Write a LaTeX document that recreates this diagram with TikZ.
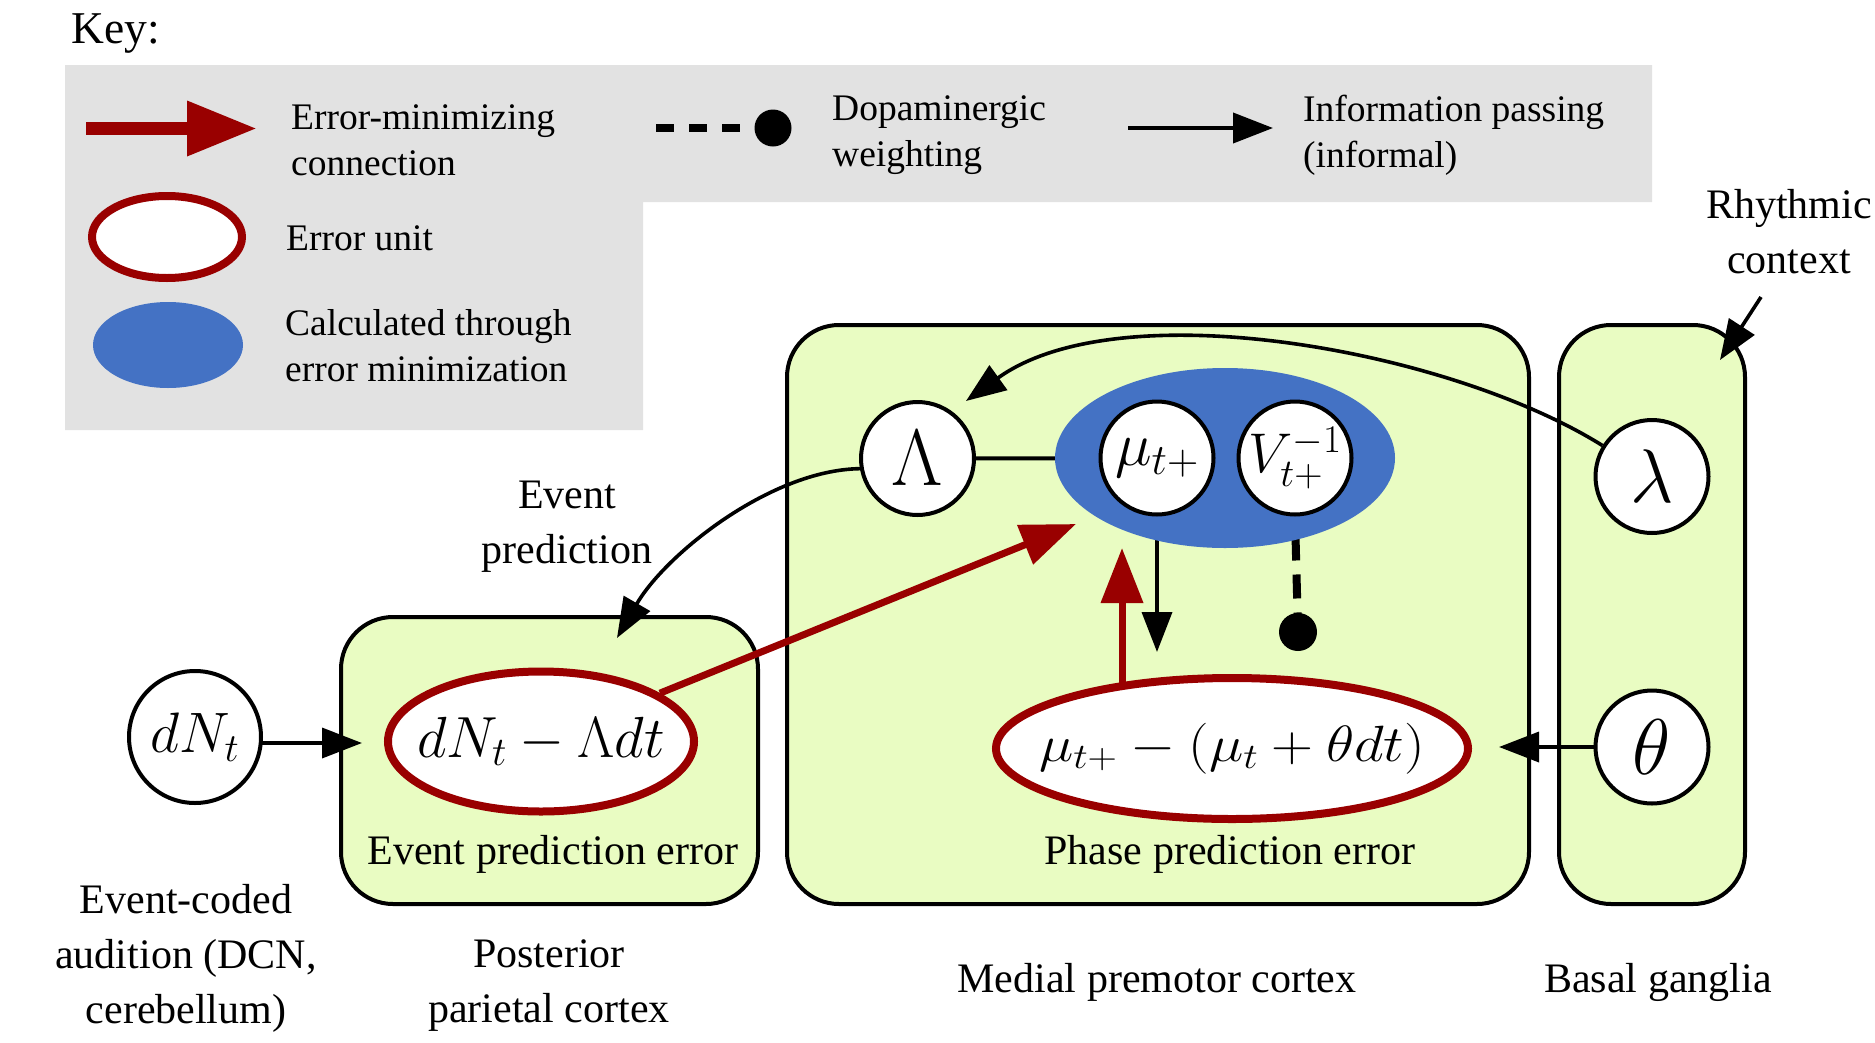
\RequirePackage{fix-cm}
\documentclass[tikz,border=0pt]{standalone}
\usepackage[no-math]{fontspec}
\setmainfont{Liberation Serif}
\usepackage{graphicx}
\usetikzlibrary{arrows.meta,shapes.geometric}
\definecolor{boxgreen}{RGB}{233,252,194}
\definecolor{keygray}{RGB}{226,226,226}
\definecolor{errred}{RGB}{153,0,0}
\definecolor{calcblue}{RGB}{68,114,196}
\pgfdeclarelayer{bg}
\pgfdeclarelayer{edges}
\pgfsetlayers{bg,edges,main}
\tikzset{
  lab/.style={font=\fontsize{42}{55}\selectfont, align=center, inner sep=0pt},
  keytxt/.style={font=\fontsize{37.5}{46}\selectfont, align=left, anchor=north west, inner sep=0pt},
  var/.style={circle, draw=black, line width=4pt, fill=white, minimum size=113pt, inner sep=0pt},
  errunit/.style={ellipse, draw=errred, line width=8pt, fill=white, inner sep=0pt},
  region/.style={rectangle, draw=black, line width=4pt, fill=boxgreen, rounded corners=52pt, inner sep=0pt},
  info/.style={line width=3.6pt, -{Triangle[length=40pt,width=30pt]}},
  errarrow/.style={draw=errred, line width=7pt, -{Triangle[length=55pt,width=41pt]}},
}
\begin{document}
\begin{tikzpicture}[x=1pt,y=-1pt]
\useasboundingbox (0,0) rectangle (1875,1042);

% ---------- Key ----------
\node[font=\fontsize{45.5}{54}\selectfont, anchor=base west, inner sep=0pt] (keytitle) at (71,43) {Key:};
\fill[keygray] (65,65) -- (1652,65) -- (1652,202) -- (643,202) -- (643,430) -- (65,430) -- cycle;

\coordinate (k1a) at (86,128.5);
\coordinate (k1b) at (257,128.5);
\draw[errred, line width=13pt, -{Triangle[length=70pt,width=52pt]}] (k1a) -- (k1b);
\node[keytxt] (k1t) at (291,96.8) {\strut Error-minimizing\\\strut connection};

\coordinate (k2a) at (656,128);
\node[circle, fill=black, minimum size=37pt, inner sep=0pt] (k2dot) at (773,128) {};
\draw[line width=8pt, dash pattern=on 18pt off 15pt] (k2a) -- (k2dot.center);
\node[keytxt] (k2t) at (832,87.8) {\strut Dopaminergic\\\strut weighting};

\coordinate (k3a) at (1128,128);
\coordinate (k3b) at (1273,128);
\draw[info, line width=4pt] (k3a) -- (k3b);
\node[keytxt] (k3t) at (1303,88.8) {\strut Information passing\\\strut (informal)};

\node[errunit, minimum width=150pt, minimum height=82pt] (k4) at (167,237) {};
\node[keytxt] (k4t) at (286,217.8) {\strut Error unit};

\node[ellipse, fill=calcblue, minimum width=150pt, minimum height=86pt, inner sep=0pt] (k5) at (168,345) {};
\node[keytxt] (k5t) at (285,302.8) {\strut Calculated through\\\strut error minimization};

% ---------- Regions ----------
\begin{pgfonlayer}{bg}
\node[region, minimum width=417pt, minimum height=287pt] (ppc) at (549.5,760.5) {};
\node[region, minimum width=742pt, minimum height=579pt] (mpc) at (1158,614.5) {};
\node[region, minimum width=186pt, minimum height=579pt] (bg) at (1652,614.5) {};
\end{pgfonlayer}

% ---------- Nodes ----------
\node[var, minimum size=132pt, font=\fontsize{57}{60}\selectfont] (dN) at (195,737) {\makebox[0pt]{$dN_t$}};
\node[errunit, minimum width=306pt, minimum height=140pt, font=\fontsize{58}{60}\selectfont] (epe) at (541,741.5) {\makebox[0pt]{$dN_t - \Lambda dt$}};

\node[ellipse, fill=calcblue, minimum width=340pt, minimum height=180pt, inner sep=0pt] (calc) at (1225,458) {};
\node[var, font=\fontsize{80}{80}\selectfont] (Lam) at (917.5,458.5) {\makebox[0pt]{$\Lambda$}};
\node[var, font=\fontsize{62}{60}\selectfont] (mu) at (1157,458) {\makebox[0pt]{$\mu_{t+}$}};
\node[var, font=\fontsize{56}{60}\selectfont] (V) at (1295,458) {\makebox[0pt]{$V_{t+}^{-1}$}};
\node[circle, fill=black, minimum size=38pt, inner sep=0pt] (dot) at (1298,632) {};
\node[errunit, minimum width=472pt, minimum height=141pt, font=\fontsize{51}{60}\selectfont] (ppe) at (1232,748.5) {\makebox[0pt]{\scalebox{1.14}[1]{$\mu_{t+} - (\mu_t + \theta dt)$}}};

\node[var, font=\fontsize{76}{80}\selectfont] (lam) at (1652,476.5) {\makebox[0pt]{$\lambda$}};
\node[var, font=\fontsize{79}{80}\selectfont] (theta) at (1652,747) {\makebox[0pt]{$\theta$}};

% ---------- Labels ----------
\node[lab, anchor=base] (epel) at (553,864) {Event prediction error};
\node[lab, anchor=base] (ppel) at (1230,864) {Phase prediction error};
\node[lab, anchor=base] (mpcl) at (1157,992) {Medial premotor cortex};
\node[lab, anchor=base] (bgl) at (1658,992) {Basal ganglia};
\node[lab, anchor=north] (audl) at (186,874.5) {\strut Event-coded\\\strut audition (DCN,\\\strut cerebellum)};
\node[lab, anchor=north] (ppcl) at (549,928.5) {\strut Posterior\\\strut parietal cortex};
\node[lab, anchor=north] (evpl) at (567,469.5) {\strut Event\\\strut prediction};
\node[lab, anchor=north] (rcl) at (1789,179.5) {\strut Rhythmic\\\strut context};

% ---------- Connectors ----------
\coordinate (dNtip) at (362,743);
\coordinate (ppcTip) at (617,638);
\coordinate (LamTip) at (966,401);
\coordinate (rcStart) at (1761,297);
\coordinate (rcTip) at (1720,360);
\coordinate (muTip) at (1157,652);
\coordinate (upTip) at (1122,548);
\coordinate (diagTip) at (1076,524);
\coordinate (thetaTip) at (1499,747);

\begin{pgfonlayer}{edges}
\draw[info] (dN.center |- dNtip) -- (dNtip);
\draw[info] (Lam.190) .. controls (770,470) and (665,555) .. (ppcTip);
\draw[info] (lam.148) .. controls (1450,350) and (1120,290) .. (LamTip);
\draw[info] (rcStart) -- (rcTip);
\draw[line width=4pt] (Lam) -- (calc);
\draw[info] (mu.center) -- (muTip);
\draw[line width=8pt, dash pattern=on 24pt off 14pt, dash phase=18pt] (V.south) -- (dot.center);
\draw[errarrow] (ppe.center -| upTip) -- (upTip);
\draw[errarrow] (epe) -- (diagTip);
\draw[info] (theta) -- (thetaTip);
\end{pgfonlayer}
\end{tikzpicture}
\end{document}
